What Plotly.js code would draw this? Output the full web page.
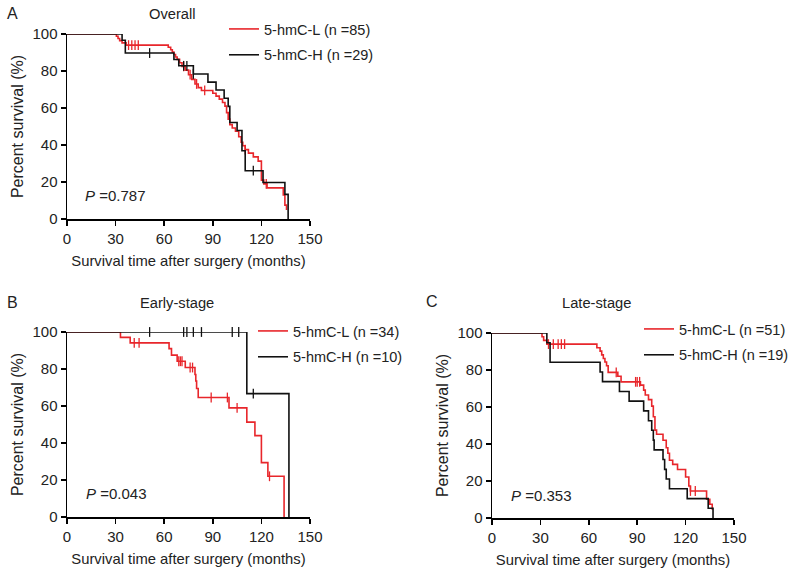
<!DOCTYPE html>
<html>
<head>
<meta charset="utf-8">
<script src="https://cdn.plot.ly/plotly-3.0.1.min.js"></script>
<style>html,body{margin:0;padding:0;background:#fff;}#chart{width:800px;height:573px;}</style>
</head>
<body>
<div id="chart"></div>
<script>
// ---------- Data ----------
const xTicks = [0, 30, 60, 90, 120, 150];
const yTicks = [0, 20, 40, 60, 80, 100];
const panelTitles = ["Overall", "Early-stage", "Late-stage"];
const panelLetters = ["A", "B", "C"];
const pValues = ["0.787", "0.043", "0.353"];
const seriesNamesL = ["5-hmC-L (n =85)", "5-hmC-L (n =34)", "5-hmC-L (n =51)"];
const seriesNamesH = ["5-hmC-H (n =29)", "5-hmC-H (n =10)", "5-hmC-H (n =19)"];

// Panel A - Overall
const A_L_time = [0, 30.5, 31.5, 32.5, 34, 36.5, 62.5, 64, 65, 66, 67, 68, 69.5, 71, 73, 75, 77, 79, 81, 83, 90, 92, 94, 96, 97.5, 98.5, 99.5, 100.5, 102, 104, 106, 107.5, 108.5, 110, 112, 115, 118, 120, 121.5, 123.5, 133.5, 134.5, 135.5];
const A_L_surv = [100, 98.8, 97.6, 96.4, 95.2, 94.0, 92.8, 91.5, 90.2, 88.9, 87.6, 86.3, 84.5, 82.5, 80.5, 78.0, 75.5, 73.0, 71.0, 69.5, 68.0, 66.4, 64.8, 63.0, 61.0, 57.5, 54.0, 51.0, 49.2, 47.4, 44.5, 41.5, 39.6, 37.5, 35.6, 33.6, 31.3, 21.0, 19.0, 16.8, 13.0, 7.5, 4.9];
const A_L_cens = [38, 40, 42, 44, 72, 76, 80, 85, 110, 123];
const A_H_time = [0, 34, 36, 66, 69, 78, 87, 92, 97, 99.5, 100.5, 105, 108, 110, 121, 134.5, 136.5];
const A_H_surv = [100, 96.6, 89.7, 86.2, 82.8, 78.4, 74.0, 69.7, 65.3, 60.9, 52.2, 47.8, 36.9, 26.1, 19.7, 13.3, 0];
const A_H_cens = [51, 72, 74, 78, 115];

// Panel B - Early-stage
const B_L_time = [0, 33, 39, 63, 64.5, 68, 73, 79, 79.5, 80, 81, 100, 111, 116, 120, 124, 134];
const B_L_surv = [100, 97.1, 94.1, 91.0, 87.5, 84.2, 80.8, 77.0, 73.5, 69.5, 64.6, 59.0, 51.3, 44.0, 29.4, 22.0, 0];
const B_L_cens = [41.5, 44.5, 69, 70, 71, 76, 77.5, 89, 99, 105, 125];
const B_H_time = [0, 111, 137];
const B_H_surv = [100, 66.7, 0];
const B_H_cens = [51, 72, 74, 78, 83, 102, 106, 115];

// Panel C - Late-stage
const C_L_time = [0, 31, 32, 34, 65, 67, 68, 69, 70, 71, 72, 78, 80, 92, 94, 95, 97, 99, 100, 101, 102, 106, 108, 109, 110, 112, 115, 120, 122, 123, 133, 135, 136.5];
const C_L_surv = [100, 98, 96, 94, 92, 90.2, 88.2, 86.2, 84.3, 82.3, 78.7, 76.6, 73.6, 71.8, 69.1, 66.5, 64, 60.5, 54.7, 47.5, 45.3, 42, 38, 35, 31.2, 29, 26.2, 22.2, 17.3, 14.6, 10.1, 7.4, 4.5];
const C_L_cens = [35, 38, 41, 43, 45, 77, 89, 90, 91.5, 123, 126];
const C_H_time = [0, 34, 36, 67, 68.5, 79, 85, 94, 97, 99, 100, 100.5, 106, 107, 108, 110, 121, 134, 137];
const C_H_surv = [100, 94.7, 84.2, 78.9, 73.7, 68.4, 63.2, 57.9, 52.6, 47.4, 42.1, 36.8, 31.6, 26.3, 21.1, 15.8, 10.5, 5.3, 0];
const C_H_cens = [];

// ---------- Styling ----------
const RED = "#e8262b";
const BLACK = "#111111";
const FONT = "Arial, 'Liberation Sans', Helvetica, sans-serif";

function stepValue(times, surv, t) {
  let v = surv[0];
  for (let i = 0; i < times.length; i++) { if (times[i] <= t) v = surv[i]; }
  return v;
}

function km(times, surv, cens, color, name, xa, ya, leg) {
  return [
    { type: "scatter", mode: "lines", x: times, y: surv, name: name, legendgroup: name,
      line: { shape: "hv", color: color, width: 1.6 }, xaxis: xa, yaxis: ya,
      legend: leg, hoverinfo: "skip", cliponaxis: false },
    { type: "scatter", mode: "markers", x: cens, y: cens.map(t => stepValue(times, surv, t)),
      marker: { symbol: "line-ns", size: 7, line: { color: color, width: 1.3 } },
      xaxis: xa, yaxis: ya, showlegend: false, hoverinfo: "skip", cliponaxis: false }
  ];
}

const data = [].concat(
  km(A_L_time, A_L_surv, A_L_cens, RED, seriesNamesL[0], "x", "y", "legend"),
  km(A_H_time, A_H_surv, A_H_cens, BLACK, seriesNamesH[0], "x", "y", "legend"),
  km(B_L_time, B_L_surv, B_L_cens, RED, seriesNamesL[1], "x2", "y2", "legend2"),
  km(B_H_time, B_H_surv, B_H_cens, BLACK, seriesNamesH[1], "x2", "y2", "legend2"),
  km(C_L_time, C_L_surv, C_L_cens, RED, seriesNamesL[2], "x3", "y3", "legend3"),
  km(C_H_time, C_H_surv, C_H_cens, BLACK, seriesNamesH[2], "x3", "y3", "legend3")
);

const W = 800, H = 573;
const px = v => v / W;
const py = v => 1 - v / H;

function xAxis(domain, anchor) {
  return {
    domain: domain, anchor: anchor, range: [0, 150], tickvals: xTicks,
    ticks: "outside", ticklen: 5, tickwidth: 1.5, tickcolor: "#000",
    showline: true, linewidth: 1.5, linecolor: "#000", showgrid: false, zeroline: false,
    tickfont: { family: FONT, size: 15, color: "#222" }, fixedrange: true, automargin: false,
    title: { text: "Survival time after surgery (months)", font: { family: FONT, size: 14.8, color: "#222" }, standoff: 10 }
  };
}
function yAxis(domain, anchor) {
  return {
    domain: domain, anchor: anchor, range: [0, 100], tickvals: yTicks,
    ticks: "outside", ticklen: 5, tickwidth: 1.5, tickcolor: "#000",
    showline: true, linewidth: 1.5, linecolor: "#000", showgrid: false, zeroline: false,
    tickfont: { family: FONT, size: 15, color: "#222" }, fixedrange: true, automargin: false,
    title: { text: "Percent survival (%)", font: { family: FONT, size: 16, color: "#222" }, standoff: 5 }
  };
}
function legendAt(xp, yp) {
  return { x: px(xp), y: py(yp), xanchor: "left", yanchor: "top", bgcolor: "rgba(0,0,0,0)",
    font: { family: FONT, size: 14.5, color: "#222" }, traceorder: "grouped", tracegroupgap: 4, itemwidth: 30 };
}

const titleFont = { family: FONT, size: 14.7, color: "#222" };
const letterFont = { family: FONT, size: 16, color: "#222" };
const pFont = { family: FONT, size: 15, color: "#222" };

const annotations = [
  { text: panelLetters[0], x: px(5), y: py(14), xanchor: "left", yanchor: "middle", font: letterFont },
  { text: panelLetters[1], x: px(5), y: py(302), xanchor: "left", yanchor: "middle", font: letterFont },
  { text: panelLetters[2], x: px(424), y: py(301), xanchor: "left", yanchor: "middle", font: letterFont },
  { text: panelTitles[0], x: px(172), y: py(14), xanchor: "center", yanchor: "middle", font: titleFont },
  { text: panelTitles[1], x: px(177), y: py(303), xanchor: "center", yanchor: "middle", font: titleFont },
  { text: panelTitles[2], x: px(596), y: py(303), xanchor: "center", yanchor: "middle", font: titleFont },
  { text: "<i>P</i> =" + pValues[0], x: px(83), y: py(195), xanchor: "left", yanchor: "middle", font: pFont },
  { text: "<i>P</i> =" + pValues[1], x: px(84), y: py(493), xanchor: "left", yanchor: "middle", font: pFont },
  { text: "<i>P</i> =" + pValues[2], x: px(509), y: py(495), xanchor: "left", yanchor: "middle", font: pFont }
].map(a => Object.assign({ xref: "paper", yref: "paper", showarrow: false }, a));

const layout = {
  width: W, height: H,
  margin: { l: 0, r: 0, t: 0, b: 0 },
  paper_bgcolor: "#fff", plot_bgcolor: "#fff",
  font: { family: FONT, color: "#222" },
  showlegend: true,
  xaxis: xAxis([px(67), px(310)], "y"),
  yaxis: yAxis([py(219), py(34)], "x"),
  xaxis2: xAxis([px(67), px(310)], "y2"),
  yaxis2: yAxis([py(517), py(332)], "x2"),
  xaxis3: xAxis([px(492), px(734)], "y3"),
  yaxis3: yAxis([py(518), py(333)], "x3"),
  legend: legendAt(224, 13),
  legend2: legendAt(253, 315),
  legend3: legendAt(639, 313),
  annotations: annotations
};

Plotly.newPlot("chart", data, layout, { displayModeBar: false, staticPlot: true });
</script>
</body>
</html>
